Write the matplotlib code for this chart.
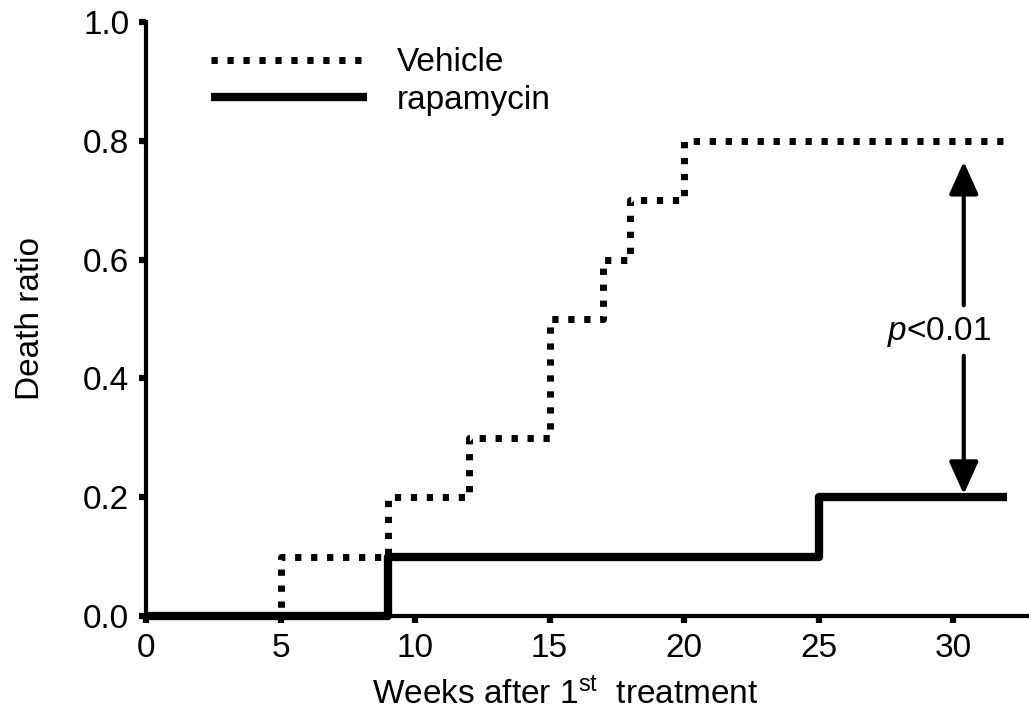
import matplotlib
matplotlib.use("Agg")
import matplotlib.pyplot as plt

plt.rcParams['font.family'] = ['Liberation Sans', 'DejaVu Sans']
plt.rcParams['mathtext.fontset'] = 'custom'
plt.rcParams['mathtext.rm'] = 'Liberation Sans'
plt.rcParams['mathtext.it'] = 'Liberation Sans:italic'

# Data
vehicle_weeks = [0, 5, 9, 12, 15, 17, 18, 20, 32]
vehicle_ratio = [0.0, 0.1, 0.2, 0.3, 0.5, 0.6, 0.7, 0.8, 0.8]
rapa_weeks = [0, 9, 25, 32]
rapa_ratio = [0.0, 0.1, 0.2, 0.2]
x_ticks = [0, 5, 10, 15, 20, 25, 30]
y_ticks = [0.0, 0.2, 0.4, 0.6, 0.8, 1.0]
y_ticklabels = ['0.0', '0.2', '0.4', '0.6', '0.8', '1.0']
series_labels = ['Vehicle', 'rapamycin']
p_label = r'$p$<0.01'
arrow_x = 30.4
arrow_top = 0.765
arrow_bottom = 0.205

fig = plt.figure(figsize=(10.29, 7.13), dpi=100)
ax = fig.add_axes([146/1029, 1 - 616/713, (1029-146)/1029, (616-22)/713])
ax.set_xlim(0, (1029 - 146) / 26.9)
ax.set_ylim(0, 1.0)

fs = 24
ax.plot(vehicle_weeks, vehicle_ratio, drawstyle='steps-post', color='black',
        lw=5.0, linestyle=(0, (0.9, 1.4)), label=series_labels[0],
        dash_capstyle='butt', clip_on=False, zorder=3)
ax.plot(rapa_weeks, rapa_ratio, drawstyle='steps-post', color='black',
        lw=6.0, label=series_labels[1], solid_capstyle='butt', clip_on=False, zorder=4)

for s in ['top', 'right']:
    ax.spines[s].set_visible(False)
for s in ['left', 'bottom']:
    ax.spines[s].set_linewidth(3.0)
ax.spines['left'].set_bounds(0, 1.0)

ax.set_xticks(x_ticks)
ax.set_xticklabels([str(t) for t in x_ticks])
ax.set_yticks(y_ticks)
ax.set_yticklabels(y_ticklabels)
ax.tick_params(axis='both', direction='out', length=5, width=4.5, labelsize=fs, pad=7)

ax.set_xlabel(r'Weeks after 1$^{\mathrm{st}}$  treatment', fontsize=fs)
ax.set_ylabel('Death ratio', fontsize=fs)
ax.xaxis.set_label_coords((565-146)/(1029-146), -(678-616)/594)
ax.yaxis.set_label_coords(-(146-46)/883, 0.5)

# p-value double arrow
p_mid = 0.478
ax.annotate('', xy=(arrow_x, arrow_top), xytext=(arrow_x, p_mid + 0.045),
            arrowprops=dict(arrowstyle='-|>,head_length=2.0,head_width=0.9', lw=3.0, color='black',
                            shrinkA=0, shrinkB=0))
ax.annotate('', xy=(arrow_x, arrow_bottom), xytext=(arrow_x, p_mid - 0.04),
            arrowprops=dict(arrowstyle='-|>,head_length=2.0,head_width=0.9', lw=3.0, color='black',
                            shrinkA=0, shrinkB=0))
ax.text(29.5, p_mid, p_label, fontsize=fs, ha='center', va='center')

leg = ax.legend(loc='upper left', bbox_to_anchor=(0.058, 0.98), frameon=False, fontsize=fs,
                handlelength=4.7, handletextpad=0.9, labelspacing=0.2, borderaxespad=0)

fig.savefig('out.png', dpi=100)
